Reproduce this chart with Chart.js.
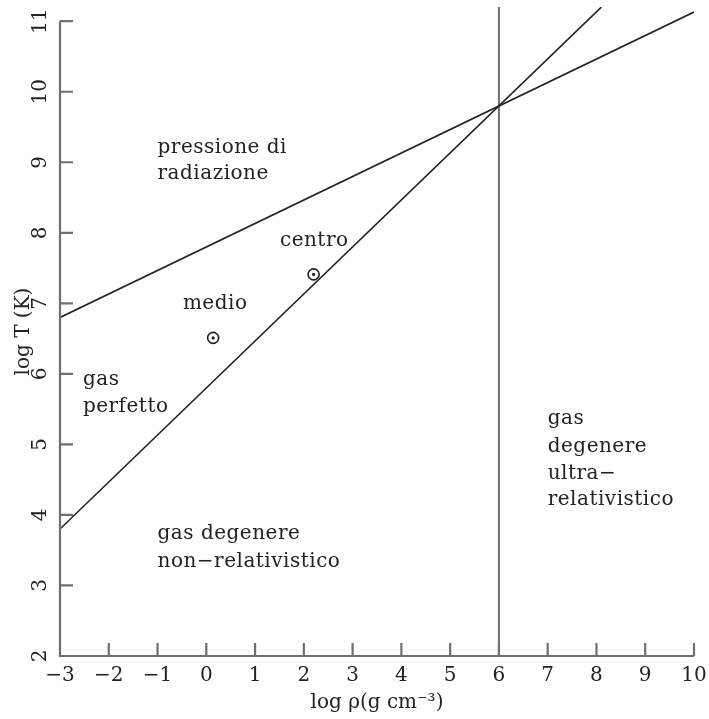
<!DOCTYPE html>
<html>
<head>
<meta charset="utf-8">
<script src="https://cdn.jsdelivr.net/npm/chart.js@4/dist/chart.umd.min.js"></script>
<style>
  html, body { margin: 0; padding: 0; background: #fff; }
  #wrap { width: 709px; height: 719px; }
</style>
</head>
<body>
<div id="wrap"><canvas id="chart"></canvas></div>
<script>
// valori (log rho, log T)
const xTicks = [-3, -2, -1, 0, 1, 2, 3, 4, 5, 6, 7, 8, 9, 10];
const yTicks = [2, 3, 4, 5, 6, 7, 8, 9, 10, 11];

// pressione di radiazione = gas perfetto
const radX = [-3, 10];
const radY = [6.8, 11.13];
// gas perfetto = degenere non relativistico
const nrX = [-3, 8.1];
const nrY = [3.8, 11.2];
// limite ultra-relativistico
const urX = [6, 6];
const urY = [2, 11.2];

// punti del Sole
const sunNames = ['medio', 'centro'];
const sunX = [0.14, 2.2];
const sunY = [6.51, 7.41];

// scritte nelle regioni
const regionText = ['pressione di', 'radiazione', 'centro', 'medio', 'gas', 'perfetto',
  'gas', 'degenere', 'ultra\u2212', 'relativistico', 'gas degenere', 'non\u2212relativistico'];
const regionX = [-1, -1, 1.51, -0.48, -2.53, -2.53, 7.0, 7.0, 7.0, 7.0, -1, -1];
const regionY = [9.2, 8.83, 7.88, 6.99, 5.91, 5.54, 5.36, 4.97, 4.59, 4.21, 3.73, 3.34];

const FONT = "'DejaVu Serif', serif";
const FSIZE = 20;
const INK = '#222';
const AXIS = '#6f6f6f';

function pts(xs, ys) { return xs.map((v, i) => ({ x: v, y: ys[i] })); }
function fmt(v) { return v < 0 ? '\u2212' + Math.abs(v) : String(v); }

const axisPlugin = {
  id: 'axisPlugin',
  afterDatasetsDraw(chart) {
    const { ctx, scales: { x, y } } = chart;
    const x0 = x.getPixelForValue(xTicks[0]);
    const x1 = x.getPixelForValue(xTicks[xTicks.length - 1]);
    const y0 = y.getPixelForValue(yTicks[0]);
    const y1 = y.getPixelForValue(yTicks[yTicks.length - 1]);
    ctx.save();
    ctx.strokeStyle = AXIS;
    ctx.lineWidth = 2.2;
    ctx.beginPath();
    ctx.moveTo(x0, y1); ctx.lineTo(x0, y0); ctx.lineTo(x1, y0);
    xTicks.forEach(v => { const p = x.getPixelForValue(v); ctx.moveTo(p, y0); ctx.lineTo(p, y0 - 13); });
    yTicks.forEach(v => { const p = y.getPixelForValue(v); ctx.moveTo(x0, p); ctx.lineTo(x0 + 13, p); });
    ctx.stroke();

    // etichette asse y ruotate
    ctx.fillStyle = INK;
    ctx.font = FSIZE + 'px ' + FONT;
    ctx.textAlign = 'center';
    ctx.textBaseline = 'middle';
    yTicks.forEach(v => {
      ctx.save();
      ctx.translate(x0 - 19, y.getPixelForValue(v));
      ctx.rotate(-Math.PI / 2);
      ctx.fillText(fmt(v), 0, 0);
      ctx.restore();
    });

    // scritte
    ctx.textAlign = 'left';
    ctx.letterSpacing = '0.5px';
    regionText.forEach((t, i) => {
      ctx.fillText(t, x.getPixelForValue(regionX[i]), y.getPixelForValue(regionY[i]));
    });
    ctx.restore();
  }
};

new Chart(document.getElementById('chart'), {
  type: 'scatter',
  data: {
    datasets: [
      { label: 'radiazione', data: pts(radX, radY), showLine: true, borderColor: INK, borderWidth: 1.6, pointRadius: 0 },
      { label: 'non-relativistico', data: pts(nrX, nrY), showLine: true, borderColor: INK, borderWidth: 1.6, pointRadius: 0 },
      { label: 'ultra-relativistico', data: pts(urX, urY), showLine: true, borderColor: AXIS, borderWidth: 2, pointRadius: 0 },
      { label: 'Sole centro', data: pts(sunX, sunY), pointRadius: 1.6, pointBorderWidth: 0, pointBackgroundColor: INK, order: 0 },
      { label: 'Sole', data: pts(sunX, sunY), pointRadius: 5.5, pointBorderWidth: 1.6, pointBorderColor: INK, pointBackgroundColor: '#fff', order: 1 }
    ]
  },
  options: {
    responsive: true,
    maintainAspectRatio: false,
    animation: false,
    layout: { padding: { top: 6, right: 15, left: 0, bottom: 0 } },
    plugins: { legend: { display: false }, tooltip: { enabled: false } },
    scales: {
      x: {
        type: 'linear', min: -3, max: 10,
        grid: { display: false, drawTicks: false }, border: { display: false },
        ticks: { stepSize: 1, autoSkip: false, maxRotation: 0, padding: 8, color: INK,
          font: { family: FONT, size: FSIZE }, callback: v => fmt(v) },
        title: { display: true, text: 'log \u03c1(g cm\u207b\u00b3)', color: INK,
          font: { family: FONT, size: FSIZE }, padding: { top: 2, bottom: 4 } },
        afterFit: s => { s.height = 63; s.paddingLeft = 0; s.paddingRight = 0; }
      },
      y: {
        type: 'linear', min: 2, max: 11.2,
        grid: { display: false, drawTicks: false }, border: { display: false },
        ticks: { display: false },
        title: { display: true, text: 'log T (K)', color: INK,
          font: { family: FONT, size: FSIZE }, padding: { top: 12, bottom: 0 } },
        afterFit: s => { s.width = 60; }
      }
    }
  },
  plugins: [axisPlugin]
});
</script>
</body>
</html>
